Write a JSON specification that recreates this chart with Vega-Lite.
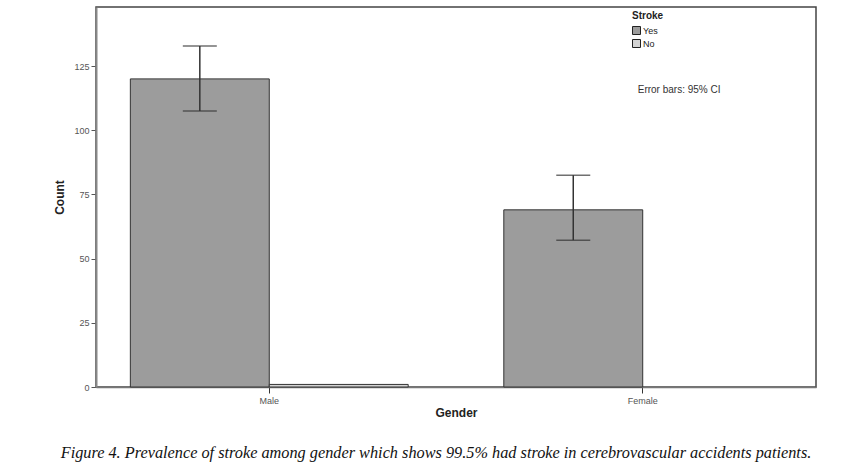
{
  "$schema": "https://vega.github.io/schema/vega-lite/v6.json",
  "width": 720,
  "height": 380,
  "autosize": {"type": "none"},
  "padding": {"left": 96, "top": 7, "right": 31, "bottom": 87},
  "background": "white",
  "config": {
    "view": {"stroke": "#444444", "strokeWidth": 1.5},
    "font": "Liberation Sans"
  },
  "title": {
    "text": "Figure 4. Prevalence of stroke among gender which shows 99.5% had stroke in cerebrovascular accidents patients.",
    "orient": "bottom",
    "anchor": "middle",
    "font": "Liberation Serif",
    "fontStyle": "italic",
    "fontWeight": "normal",
    "fontSize": 16.3,
    "color": "#111111",
    "offset": 27,
    "dx": -20
  },
  "datasets": {
    "counts": [
      {"Gender": "Male", "Stroke": "Yes", "Count": 120},
      {"Gender": "Male", "Stroke": "No", "Count": 1},
      {"Gender": "Female", "Stroke": "Yes", "Count": 69}
    ],
    "errors": [
      {"Gender": "Male", "Stroke": "Yes", "lo": 107.5, "hi": 132.8},
      {"Gender": "Female", "Stroke": "Yes", "lo": 57.2, "hi": 82.5}
    ],
    "note": [
      {"label": "Error bars: 95% CI", "Gender": "Female", "pos": 115.6}
    ]
  },
  "encoding": {
    "x": {
      "field": "Gender",
      "type": "nominal",
      "sort": ["Male", "Female"],
      "scale": {"domain": ["Male", "Female"], "paddingInner": 0.256, "paddingOuter": 0.092},
      "axis": {
        "title": "Gender",
        "titleFontWeight": "bold",
        "titleFontSize": 12,
        "titleColor": "#222222",
        "titlePadding": 2,
        "labelAngle": 0,
        "labelFontSize": 9,
        "labelColor": "#555555",
        "labelPadding": 3,
        "tickSize": 6,
        "tickColor": "#333333",
        "domainColor": "#777777",
        "domainWidth": 1.5
      }
    }
  },
  "layer": [
    {
      "data": {"name": "counts"},
      "mark": {"type": "bar", "stroke": "#333333", "strokeWidth": 1},
      "encoding": {
        "xOffset": {"field": "Stroke", "type": "nominal", "sort": ["Yes", "No"], "scale": {"domain": ["Yes", "No"], "paddingInner": 0, "paddingOuter": 0}},
        "y": {
          "field": "Count",
          "type": "quantitative",
          "scale": {"domain": [0, 148], "nice": false},
          "axis": {
            "title": "Count",
            "titleFontWeight": "bold",
            "titleFontSize": 12,
            "titleColor": "#222222",
            "titlePadding": 7,
            "values": [0, 25, 50, 75, 100, 125],
            "labelFontSize": 9,
            "labelColor": "#555555",
            "tickSize": 5,
            "tickColor": "#555555",
            "domainColor": "#888888",
            "domainWidth": 2,
            "grid": false
          }
        },
        "color": {
          "field": "Stroke",
          "type": "nominal",
          "sort": ["Yes", "No"],
          "scale": {"domain": ["Yes", "No"], "range": ["#9c9c9c", "#d4d4d4"]},
          "legend": {
            "title": "Stroke",
            "orient": "none",
            "legendX": 536,
            "legendY": 4,
            "titleFontSize": 10,
            "titleFontWeight": "bold",
            "titleColor": "#222222",
            "titlePadding": 5,
            "labelFontSize": 9,
            "labelColor": "#222222",
            "labelOffset": 2,
            "symbolType": "square",
            "symbolSize": 64,
            "symbolStrokeColor": "#222222",
            "symbolStrokeWidth": 1,
            "rowPadding": 0
          }
        }
      }
    },
    {
      "data": {"name": "errors"},
      "mark": {"type": "rule", "color": "#333333", "strokeWidth": 1.5},
      "encoding": {
        "xOffset": {"field": "Stroke", "type": "nominal", "sort": ["Yes", "No"], "scale": {"domain": ["Yes", "No"]}},
        "y": {"field": "lo", "type": "quantitative"},
        "y2": {"field": "hi"}
      }
    },
    {
      "data": {"name": "errors"},
      "mark": {"type": "tick", "color": "#333333", "thickness": 1.5, "size": 34, "orient": "horizontal"},
      "encoding": {
        "xOffset": {"field": "Stroke", "type": "nominal", "sort": ["Yes", "No"], "scale": {"domain": ["Yes", "No"]}},
        "y": {"field": "lo", "type": "quantitative"}
      }
    },
    {
      "data": {"name": "errors"},
      "mark": {"type": "tick", "color": "#333333", "thickness": 1.5, "size": 34, "orient": "horizontal"},
      "encoding": {
        "xOffset": {"field": "Stroke", "type": "nominal", "sort": ["Yes", "No"], "scale": {"domain": ["Yes", "No"]}},
        "y": {"field": "hi", "type": "quantitative"}
      }
    },
    {
      "data": {"name": "note"},
      "mark": {"type": "text", "align": "left", "baseline": "middle", "dx": -5, "fontSize": 10, "color": "#333333"},
      "encoding": {
        "y": {"field": "pos", "type": "quantitative"},
        "text": {"field": "label"}
      }
    }
  ]
}
